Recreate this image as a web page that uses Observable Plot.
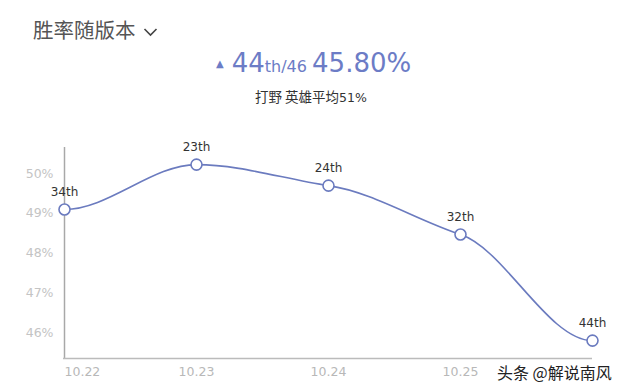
<!DOCTYPE html>
<html>
<head>
<meta charset="utf-8">
<script src="https://cdn.jsdelivr.net/npm/d3@7"></script>
<script src="https://cdn.jsdelivr.net/npm/@observablehq/plot@0.6"></script>
<style>
  html, body { margin: 0; padding: 0; background: #fff; }
  #wrap { position: relative; width: 623px; height: 391px; overflow: hidden; background: #fff;
          font-family: "DejaVu Sans", "Noto Sans CJK SC", sans-serif; }
  #title { position: absolute; left: 33px; top: 16px; font-size: 20.5px; line-height: 26px; color: #555;
           font-family: "Noto Sans CJK SC", sans-serif; }
  #chev { position: absolute; left: 143px; top: 27px; }
  #head { position: absolute; left: 216px; top: 47px; white-space: nowrap; color: #6c7cc6; line-height: 32px; }
  #head .tri { font-size: 10px; vertical-align: 5px; margin-right: 8px; }
  #head .big { font-size: 26px; }
  #head .small { font-size: 16px; }
  #sub { position: absolute; left: 255px; top: 87px; font-size: 13.5px; line-height: 18px; color: #333;
         font-family: "Noto Sans CJK SC", sans-serif; white-space: nowrap; }
  #sub .num { font-family: "DejaVu Sans", sans-serif; font-size: 12.5px; }
  #chart { position: absolute; left: 0; top: 110px; }
  #wm { position: absolute; left: 497px; top: 362px; font-size: 16px; line-height: 20px; color: #222;
        font-family: "Noto Sans CJK SC", sans-serif; white-space: nowrap; }
</style>
</head>
<body>
<div id="wrap">
  <div id="title">胜率随版本</div>
  <svg id="chev" width="16" height="10"><polyline points="1.5,2 7.5,8 13.5,2" fill="none" stroke="#444" stroke-width="1.6"/></svg>
  <div id="head"><span class="tri">▲</span><span class="big">44</span><span class="small">th/46</span> <span class="big">45.80%</span></div>
  <div id="sub">打野 英雄平均<span class="num">51%</span></div>
  <div id="chart"></div>
  <div id="wm">头条 @解说南风</div>
</div>
<script>
const versions = ["10.22", "10.23", "10.24", "10.25", "10.26"];
const winRates = [49.10, 50.23, 49.70, 48.47, 45.80];
const ranks = ["34th", "23th", "24th", "32th", "44th"];
const yTicks = [46, 47, 48, 49, 50];
const yDomain = [45.35, 50.66];
// the last version's tick label is hidden under the watermark in the reference
const xTicksShown = versions.slice(0, 4);

const data = versions.map((v, i) => ({version: v, rate: winRates[i], rank: ranks[i]}));

// smooth Hermite curve: flat at ends and at extrema
function smoothCurve(context) {
  let xs, ys;
  const k = 0.55;
  return {
    areaStart() {}, areaEnd() {},
    lineStart() { xs = []; ys = []; },
    point(x, y) { xs.push(+x); ys.push(+y); },
    lineEnd() {
      const n = xs.length;
      if (!n) return;
      const m = xs.map((_, i) => {
        if (i === 0 || i === n - 1) return 0;
        const a = ys[i] - ys[i - 1], b = ys[i + 1] - ys[i];
        if (a * b <= 0) return 0;
        return k * (ys[i + 1] - ys[i - 1]) / (xs[i + 1] - xs[i - 1]);
      });
      context.moveTo(xs[0], ys[0]);
      for (let i = 0; i < n - 1; i++) {
        const h = xs[i + 1] - xs[i];
        context.bezierCurveTo(xs[i] + h / 3, ys[i] + m[i] * h / 3,
                              xs[i + 1] - h / 3, ys[i + 1] - m[i + 1] * h / 3,
                              xs[i + 1], ys[i + 1]);
      }
    }
  };
}

const lineColor = "#6b7bbf";

const chart = Plot.plot({
  width: 623,
  height: 281,
  marginLeft: 63,
  marginRight: 31,
  marginTop: 37,
  marginBottom: 33,
  style: {fontFamily: "'DejaVu Sans', 'Noto Sans CJK SC', sans-serif", background: "transparent", overflow: "visible"},
  x: {type: "point", domain: versions, padding: 0, axis: null},
  y: {domain: yDomain, axis: null},
  marks: [
    Plot.ruleX([versions[0]], {stroke: "#a8a8a8", strokeWidth: 1.5}),
    Plot.ruleY([yDomain[0]], {stroke: "#bbb", strokeWidth: 1.5}),
    Plot.axisY({ticks: yTicks, tickSize: 0, tickPadding: 10, tickFormat: d => d + "%", fill: "#c4c4c4", fontSize: 12.5, label: null}),
    Plot.axisX({ticks: xTicksShown.slice(0, 1), tickSize: 0, tickPadding: 9, textAnchor: "start", fill: "#b8b8b8", fontSize: 12.5, label: null}),
    Plot.axisX({ticks: xTicksShown.slice(1), tickSize: 0, tickPadding: 9, fill: "#b8b8b8", fontSize: 12.5, label: null}),
    Plot.line(data, {x: "version", y: "rate", stroke: lineColor, strokeWidth: 1.6, curve: smoothCurve}),
    Plot.dot(data, {x: "version", y: "rate", r: 5.5, fill: "#fff", stroke: lineColor, strokeWidth: 1.6}),
    Plot.text(data, {x: "version", y: "rate", text: "rank", dy: -17, fill: "#333", fontSize: 12})
  ]
});
document.getElementById("chart").appendChild(chart);
</script>
</body>
</html>
